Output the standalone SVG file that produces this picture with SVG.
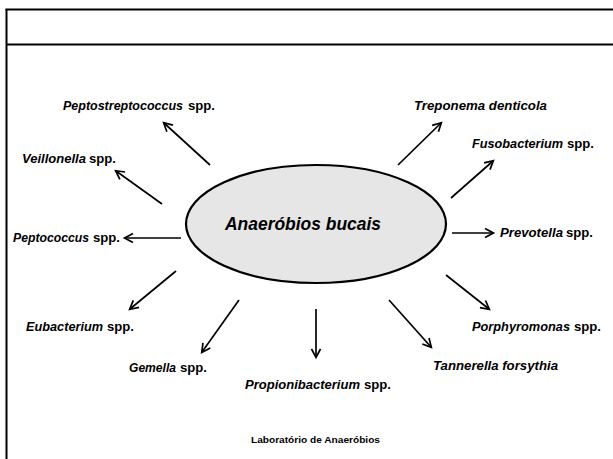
<svg xmlns="http://www.w3.org/2000/svg" width="613" height="459" viewBox="0 0 613 459">
<style>
.lbl{font-family:"Liberation Sans",Arial,sans-serif;font-size:13.5px;font-weight:bold;fill:#000}
.it{font-style:italic}
.sm{font-size:12.6px}
.arr{stroke:#000;stroke-width:1.7;fill:none;marker-end:url(#ah)}
.frame{stroke:#000;stroke-width:2;fill:none}
</style>
<defs>
<marker id="ah" markerWidth="12" markerHeight="12" refX="9" refY="5" orient="auto" markerUnits="userSpaceOnUse" viewBox="0 0 12 10">
<path d="M1,0.5 L9.5,5 L1,9.5" fill="none" stroke="#000" stroke-width="1.7"/>
</marker>
</defs>
<rect width="613" height="459" fill="#fff"/>
<g id="frame">
<line class="frame" x1="5.5" y1="9.5" x2="613" y2="9.5" stroke="#222"/>
<line class="frame" x1="6.5" y1="9" x2="6.5" y2="459" stroke="#222"/>
<line class="frame" x1="6" y1="44.5" x2="613" y2="44.5"/>
</g>
<g id="center">
<ellipse cx="316" cy="224" rx="130" ry="59" fill="#e6e6e6" stroke="#000" stroke-width="2.2"/>
<text class="lbl it" x="225" y="230" textLength="156" lengthAdjust="spacingAndGlyphs" style="font-size:19px">Anaeróbios bucais</text>
</g>
<g id="connectors">
<line class="arr" x1="210" y1="165" x2="164" y2="123"/>
<line class="arr" x1="162" y1="204" x2="116" y2="171"/>
<line class="arr" x1="181" y1="238" x2="125" y2="238"/>
<line class="arr" x1="176" y1="271" x2="130" y2="309"/>
<line class="arr" x1="239" y1="300" x2="202" y2="352"/>
<line class="arr" x1="316" y1="309" x2="316" y2="357"/>
<line class="arr" x1="389" y1="300" x2="431" y2="347"/>
<line class="arr" x1="446" y1="275" x2="489" y2="309"/>
<line class="arr" x1="452" y1="233" x2="493" y2="233"/>
<line class="arr" x1="451" y1="198" x2="493" y2="161"/>
<line class="arr" x1="398" y1="165" x2="441" y2="123"/>
</g>
<g id="n-peptostreptococcus">
<text class="lbl it sm" x="63" y="110" textLength="120" lengthAdjust="spacingAndGlyphs">Peptostreptococcus</text>
<text class="lbl" x="188" y="110" textLength="27" lengthAdjust="spacingAndGlyphs">spp.</text>
</g>
<g id="n-veillonella">
<text class="lbl it" x="22" y="163" textLength="64" lengthAdjust="spacingAndGlyphs">Veillonella</text>
<text class="lbl" x="89" y="163" textLength="27" lengthAdjust="spacingAndGlyphs">spp.</text>
</g>
<g id="n-peptococcus">
<text class="lbl it sm" x="13" y="242" textLength="76" lengthAdjust="spacingAndGlyphs">Peptococcus</text>
<text class="lbl" x="93" y="242" textLength="27" lengthAdjust="spacingAndGlyphs">spp.</text>
</g>
<g id="n-eubacterium">
<text class="lbl it" x="26" y="331" textLength="77" lengthAdjust="spacingAndGlyphs">Eubacterium</text>
<text class="lbl" x="107" y="331" textLength="27" lengthAdjust="spacingAndGlyphs">spp.</text>
</g>
<g id="n-gemella">
<text class="lbl it" x="129" y="372" textLength="47" lengthAdjust="spacingAndGlyphs">Gemella</text>
<text class="lbl" x="180" y="372" textLength="27" lengthAdjust="spacingAndGlyphs">spp.</text>
</g>
<g id="n-propionibacterium">
<text class="lbl it" x="245" y="389" textLength="115" lengthAdjust="spacingAndGlyphs">Propionibacterium</text>
<text class="lbl" x="364" y="389" textLength="27" lengthAdjust="spacingAndGlyphs">spp.</text>
</g>
<g id="n-tannerella"><text class="lbl it" x="433" y="370" textLength="125" lengthAdjust="spacingAndGlyphs">Tannerella forsythia</text></g>
<g id="n-porphyromonas">
<text class="lbl it" x="472" y="331" textLength="98" lengthAdjust="spacingAndGlyphs">Porphyromonas</text>
<text class="lbl" x="574" y="331" textLength="27" lengthAdjust="spacingAndGlyphs">spp.</text>
</g>
<g id="n-prevotella">
<text class="lbl it" x="500" y="237" textLength="63" lengthAdjust="spacingAndGlyphs">Prevotella</text>
<text class="lbl" x="566" y="237" textLength="27" lengthAdjust="spacingAndGlyphs">spp.</text>
</g>
<g id="n-fusobacterium">
<text class="lbl it" x="472" y="148" textLength="91" lengthAdjust="spacingAndGlyphs">Fusobacterium</text>
<text class="lbl" x="567" y="148" textLength="27" lengthAdjust="spacingAndGlyphs">spp.</text>
</g>
<g id="n-treponema"><text class="lbl it" x="414" y="110" textLength="133" lengthAdjust="spacingAndGlyphs">Treponema denticola</text></g>
<g id="footer"><text class="lbl" x="251" y="443" style="font-size:8.5px" textLength="129" lengthAdjust="spacingAndGlyphs">Laboratório de Anaeróbios</text></g>
</svg>
